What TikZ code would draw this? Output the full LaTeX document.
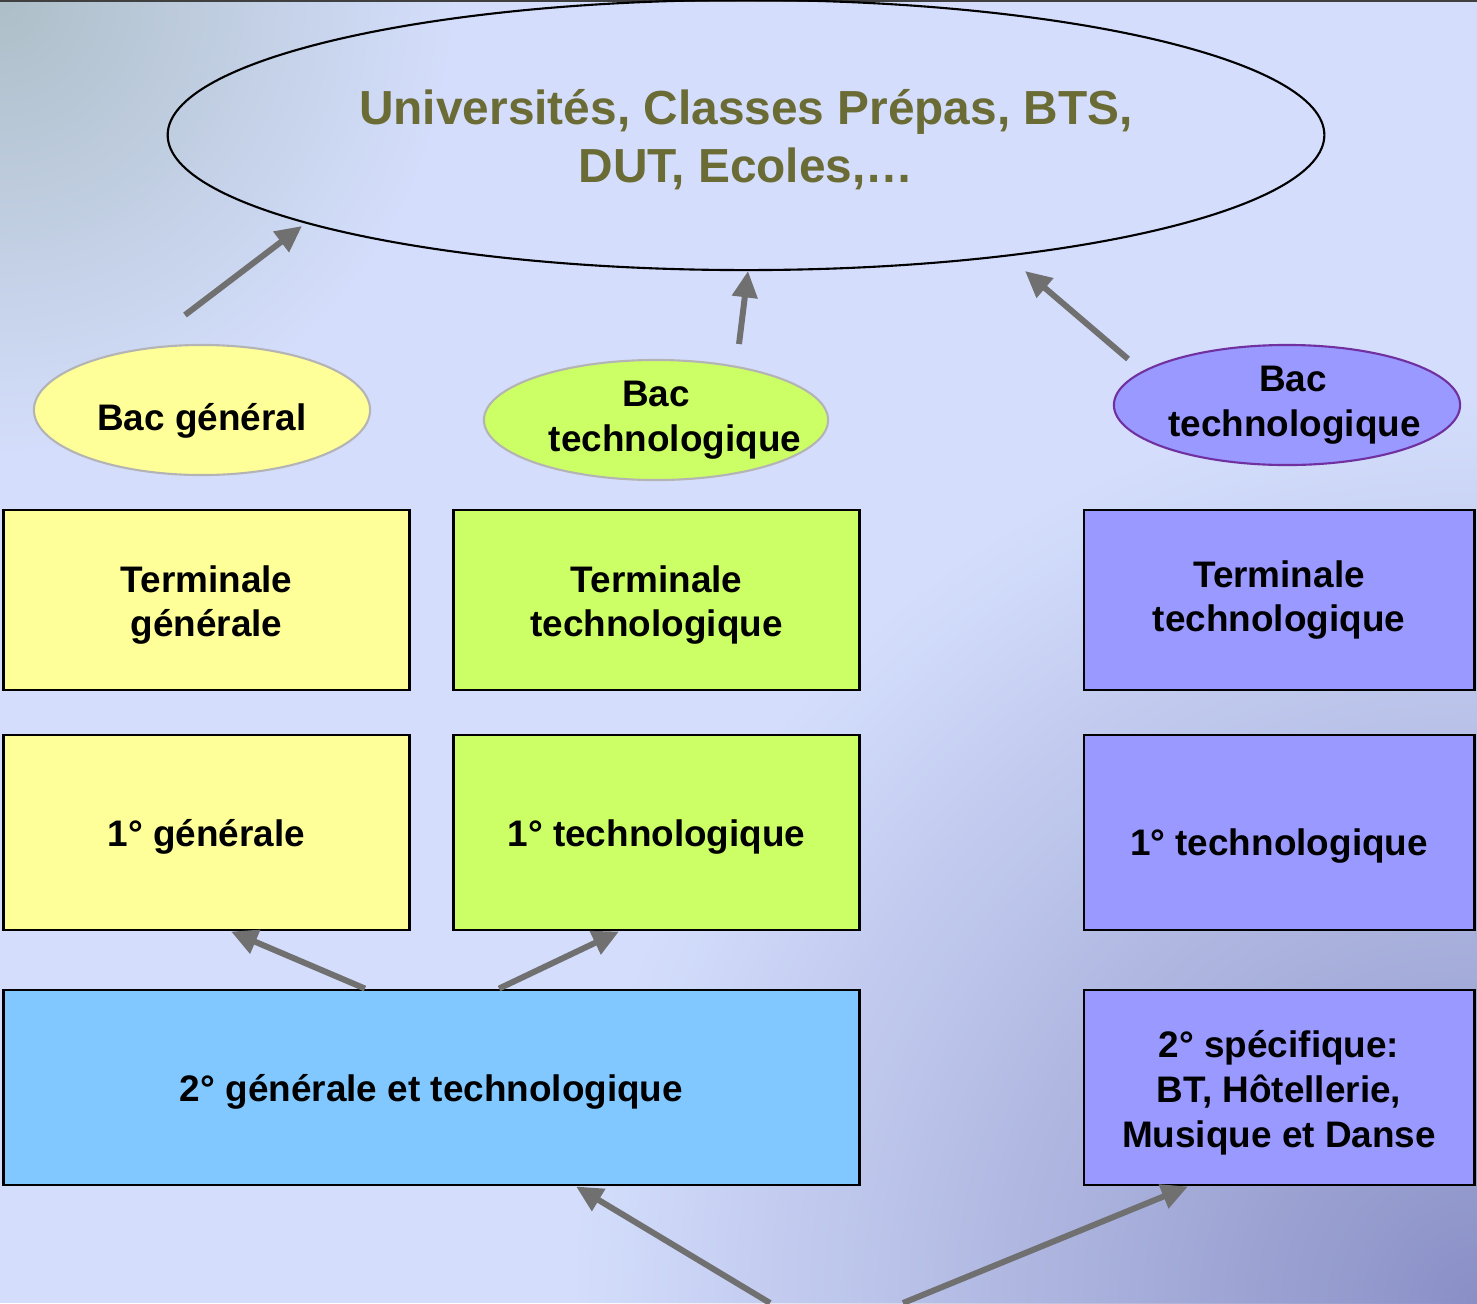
\documentclass[tikz,border=0pt]{standalone}
\usepackage{fontspec}
\setmainfont{Liberation Sans}
\usetikzlibrary{arrows.meta,shapes.geometric,fadings,calc}

\definecolor{bgblue}{HTML}{D4DEFC}
\definecolor{bgdark}{HTML}{8A90C6}
\definecolor{bggrey}{HTML}{AEBFC8}
\definecolor{olivetxt}{HTML}{6B6B35}
\definecolor{genyellow}{HTML}{FFFF99}
\definecolor{techgreen}{HTML}{CCFF66}
\definecolor{specviolet}{HTML}{9999FF}
\definecolor{commonblue}{HTML}{80C8FF}
\definecolor{arrowgrey}{HTML}{707070}
\definecolor{rimgrey}{HTML}{B4B4B4}
\definecolor{rimpurple}{HTML}{7030A0}

\tikzfading[name=glow, inner color=transparent!0, outer color=transparent!100]

% move a (multi-line) label down without changing its box
\newcommand{\dropby}[2]{\raisebox{-#1}[\height][\depth]{\begin{tabular}{@{}c@{}}#2\end{tabular}}}

\begin{document}
\begin{tikzpicture}[
    x=0.01cm, y=-0.01cm,
    every node/.style={font=\bfseries\fontsize{10.5}{12.7}\selectfont,align=center},
    stage/.style={draw=black,line width=0.8pt,inner sep=0pt,minimum width=4.05cm},
    bacoval/.style={ellipse,inner xsep=-8pt,inner ysep=0pt,line width=0.6pt},
    uprise/.style={-{Triangle[length=7.5pt,width=7pt]},arrowgrey,line width=1.7pt}
]
% background
\useasboundingbox (0,0) rectangle (1477,1303);
\fill[bgblue] (0,0) rectangle (1477,1303);
\begin{scope}
  \clip (0,0) rectangle (1477,1303);
  \fill[bgdark,path fading=glow] (1477,1303) circle (9cm);
  \fill[bggrey,path fading=glow] (0,0) circle (4.5cm);
\end{scope}
\draw[black!75,line width=0.6pt] (0,1) -- (1477,1);

% higher education
\node[ellipse,draw=black,line width=0.6pt,inner sep=0pt,minimum width=11.56cm,minimum height=2.70cm,
      text=olivetxt,font=\bfseries\fontsize{13.6}{16.5}\selectfont] (uni) at (746,135)
      {\dropby{0.07cm}{Universités, Classes Prépas, BTS,\\DUT, Ecoles,…}};

% baccalaureates
\node[bacoval,fill=genyellow,draw=rimgrey,minimum width=3.36cm,minimum height=1.30cm] (bacgen) at (202,410) {\dropby{0.12cm}{Bac général}};
\node[bacoval,fill=techgreen,draw=rimgrey,minimum width=3.44cm,minimum height=1.20cm] (bactech) at (656,420) {Bac\\\hspace*{0.38cm}technologique};
\node[bacoval,fill=specviolet,draw=rimpurple,minimum width=3.46cm,minimum height=1.20cm] (bacspec) at (1287,405) {\hspace*{0.12cm}Bac\\\hspace*{0.15cm}technologique};

% terminale
\node[stage,fill=genyellow,minimum height=1.80cm] (termgen) at (206.5,600) {\dropby{0.055cm}{Terminale\\générale}};
\node[stage,fill=techgreen,minimum height=1.80cm] (termtech) at (656.5,600) {\dropby{0.055cm}{Terminale\\technologique}};
\node[stage,fill=specviolet,minimum width=3.90cm,minimum height=1.80cm] (termspec) at (1279,600) {Terminale\\technologique};

% premiere
\node[stage,fill=genyellow,minimum height=1.95cm] (gen1) at (206.5,832.5) {\dropby{0.05cm}{1° générale}};
\node[stage,fill=techgreen,minimum height=1.95cm] (tech1) at (656.5,832.5) {\dropby{0.05cm}{1° technologique}};
\node[stage,fill=specviolet,minimum width=3.90cm,minimum height=1.95cm] (spec1) at (1279,832.5) {\dropby{0.14cm}{1° technologique}};

% seconde
\node[stage,fill=commonblue,minimum width=8.55cm,minimum height=1.95cm] (common) at (431.5,1087.5) {\dropby{0.05cm}{2° générale et technologique}};
\node[stage,fill=specviolet,minimum width=3.90cm,minimum height=1.95cm] (spec2) at (1279,1087.5) {\dropby{0.06cm}{2° spécifique:\\BT, Hôtellerie,\\Musique et Danse}};

% free arrow tails
\coordinate (fromgen) at (185,315);
\coordinate (fromtech) at (739,344);
\coordinate (fromspec) at (1128,359);
\coordinate (in2l) at (770,1303);
\coordinate (in2r) at (903,1303);

\draw[uprise] (fromgen) -- ($(uni)+(-444,91)$);
\draw[uprise] (fromtech) -- ($(uni)+(2,136)$);
\draw[uprise] (fromspec) -- ($(uni)+(279,136)$);
\draw[uprise] ([xshift=-0.665cm]common.north) -- ([xshift=0.245cm]gen1.south);
\draw[uprise] ([xshift=0.675cm]common.north) -- ([xshift=-0.375cm]tech1.south);
\draw[uprise] (in2l) -- ([xshift=1.445cm]common.south);
\draw[uprise] (in2r) -- ([xshift=-0.91cm]spec2.south);
\end{tikzpicture}
\end{document}
